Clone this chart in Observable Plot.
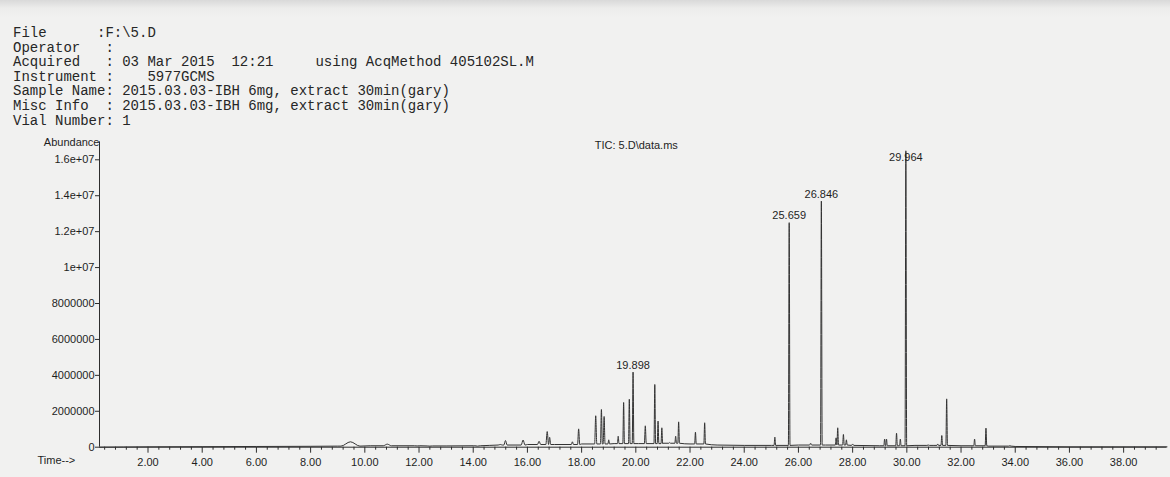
<!DOCTYPE html>
<html>
<head>
<meta charset="utf-8">
<script src="https://cdn.jsdelivr.net/npm/d3@7"></script>
<script src="https://cdn.jsdelivr.net/npm/@observablehq/plot@0.6"></script>
<style>
  html, body { margin: 0; padding: 0; background: #f1f1f0; }
  #page {
    position: relative; width: 1170px; height: 477px; overflow: hidden;
    background: linear-gradient(#d9d9d9 0px, #ececeb 8px, #f1f1f0 18px);
  }
  #header {
    position: absolute; left: 13px; top: 26px; margin: 0;
    font-family: "Liberation Mono", "DejaVu Sans Mono", monospace;
    font-size: 14px; line-height: 14.6px; color: #262626; white-space: pre;
  }
  #chart { position: absolute; left: 0; top: 128px; }
</style>
</head>
<body>
<div id="page">
  <pre id="header"></pre>
  <div id="chart"></div>
</div>
<script>
// Run information printed above the chromatogram
const headerLines = [
  "File      :F:\\5.D",
  "Operator   :",
  "Acquired   : 03 Mar 2015  12:21     using AcqMethod 405102SL.M",
  "Instrument :    5977GCMS",
  "Sample Name: 2015.03.03-IBH 6mg, extract 30min(gary)",
  "Misc Info  : 2015.03.03-IBH 6mg, extract 30min(gary)",
  "Vial Number: 1"
];
const traceTitle = "TIC: 5.D\\data.ms";

// Baseline level of the total ion current (time in min, abundance)
const baseTimes  = [0.21, 2, 4, 6, 8, 9, 10.2, 12, 13, 14, 15, 16, 17, 18, 19.2, 20.1, 21, 22, 23, 24, 25, 26, 27, 28, 29, 30.3, 31, 32, 33, 34, 36, 38, 39.6];
const baseValues = [0, 20000, 30000, 40000, 50000, 60000, 80000, 70000, 70000, 80000, 120000, 150000, 150000, 180000, 200000, 200000, 220000, 180000, 120000, 100000, 100000, 120000, 120000, 100000, 80000, 100000, 100000, 80000, 60000, 40000, 20000, 20000, 20000];

// Peaks: retention time (min), apex abundance, half width (min)
const peakTimes = [9.47, 10.83, 11.93, 12.4, 14.16, 15.0, 15.19, 15.84, 16.43, 16.73, 16.82, 17.66, 17.89,
  18.52, 18.73, 18.83, 19.0, 19.35, 19.55, 19.76, 19.898, 20.35, 20.7, 20.82, 20.96, 21.25, 21.47, 21.58,
  22.2, 22.54, 25.13, 25.659, 26.45, 26.846, 27.39, 27.45, 27.66, 27.77, 28.0, 29.18, 29.25, 29.62, 29.76,
  29.964, 30.79, 31.14, 31.29, 31.47, 32.5, 32.92, 33.8];
const peakHeights = [300000, 170000, 70000, 60000, 60000, 150000, 370000, 400000, 330000, 870000, 550000, 300000, 1020000,
  1750000, 2100000, 1710000, 410000, 610000, 2490000, 2670000, 4180000, 1190000, 3490000, 1450000, 1080000, 260000, 610000, 1410000,
  840000, 1360000, 560000, 12500000, 220000, 13700000, 520000, 1080000, 710000, 410000, 180000, 450000, 450000, 780000, 450000,
  16500000, 120000, 180000, 650000, 2690000, 450000, 1060000, 80000];
const peakHalfWidths = [0.35, 0.15, 0.1, 0.1, 0.1, 0.08, 0.06, 0.07, 0.06, 0.05, 0.04, 0.04, 0.04,
  0.04, 0.035, 0.035, 0.03, 0.03, 0.03, 0.03, 0.03, 0.035, 0.03, 0.03, 0.03, 0.03, 0.03, 0.03,
  0.03, 0.03, 0.03, 0.03, 0.04, 0.03, 0.03, 0.03, 0.03, 0.03, 0.04, 0.03, 0.03, 0.03, 0.03,
  0.03, 0.05, 0.03, 0.03, 0.03, 0.03, 0.03, 0.05];

// Peaks annotated with their retention time
const labelledTimes = [19.898, 25.659, 26.846, 29.964];
const labelCeiling = 15750000;

// Axis ticks
const xTicks = [2, 4, 6, 8, 10, 12, 14, 16, 18, 20, 22, 24, 26, 28, 30, 32, 34, 36, 38];
const xTickLabels = ["2.00", "4.00", "6.00", "8.00", "10.00", "12.00", "14.00", "16.00", "18.00", "20.00",
  "22.00", "24.00", "26.00", "28.00", "30.00", "32.00", "34.00", "36.00", "38.00"];
const yTicks = [0, 2000000, 4000000, 6000000, 8000000, 10000000, 12000000, 14000000, 16000000];
const yTickLabels = ["0", "2000000", "4000000", "6000000", "8000000", "1e+07", "1.2e+07", "1.4e+07", "1.6e+07"];
const timeDomain = [0.21, 39.6];

document.getElementById("header").textContent = headerLines.join("\n");

// Assemble the trace: baseline points plus a foot/apex/foot triple per peak
const peaks = peakTimes.map((t, i) => ({t, h: peakHeights[i], w: peakHalfWidths[i]}));
const baseAt = t => baseValues[Math.max(0, d3.bisectRight(baseTimes, t) - 1)];
const inPeak = t => peaks.some(p => t >= p.t - p.w && t <= p.t + p.w);
const trace = [];
baseTimes.forEach((t, i) => { if (!inPeak(t)) trace.push({t, v: baseValues[i], o: 0}); });
peaks.forEach(p => {
  const foot = baseAt(p.t);
  trace.push({t: p.t - p.w, v: foot, o: 0});
  trace.push({t: p.t, v: p.h, o: 1});
  trace.push({t: p.t + p.w, v: foot, o: 2});
});
trace.sort((a, b) => a.t - b.t || a.o - b.o);

const labels = labelledTimes.map(t => peaks.find(p => p.t === t));
const minorTicks = d3.range(0.4, 39.6, 0.4).filter(t => !xTicks.some(m => Math.abs(m - t) < 1e-6));

const ink = "#2e2e2e";
const chart = Plot.plot({
  width: 1170,
  height: 349,
  marginLeft: 99,
  marginRight: 3.5,
  marginTop: 31.3,
  marginBottom: 30.3,
  style: {fontFamily: "'Liberation Sans', Arial, sans-serif", fontSize: "11px", color: "#222", background: "transparent"},
  x: {domain: timeDomain, axis: null},
  y: {domain: [0, 16000000], axis: null},
  marks: [
    Plot.axisX(minorTicks, {tickSize: 3, tickFormat: () => "", stroke: ink, label: null}),
    Plot.axisX(xTicks, {tickSize: 6, tickPadding: 5, stroke: ink, fill: "#1e1e1e",
      tickFormat: d => xTickLabels[xTicks.indexOf(d)], label: null}),
    Plot.axisY(yTicks, {tickSize: 4, tickPadding: 1, stroke: ink, fill: "#1e1e1e",
      tickFormat: d => yTickLabels[yTicks.indexOf(d)], label: null}),
    Plot.ruleY([0], {stroke: ink}),
    Plot.ruleX([timeDomain[0]], {y1: 0, y2: 17000000, stroke: ink}),
    Plot.line(trace, {x: "t", y: "v", stroke: "#333", strokeWidth: 1, curve: "monotone-x"}),
    Plot.text(labels, {x: "t", y: d => Math.min(d.h, labelCeiling), text: d => d.t.toFixed(3),
      dy: -7, fill: "#1e1e1e"}),
    Plot.text(["Abundance"], {frameAnchor: "top-left", textAnchor: "end", dy: -22, fill: "#1e1e1e"}),
    Plot.text([traceTitle], {frameAnchor: "top", dx: 3, dy: -19, fill: "#1e1e1e"}),
    Plot.text(["Time-->"], {frameAnchor: "bottom-left", textAnchor: "start", dx: -62, dy: 17, fill: "#1e1e1e"})
  ]
});
document.getElementById("chart").appendChild(chart);
</script>
</body>
</html>
